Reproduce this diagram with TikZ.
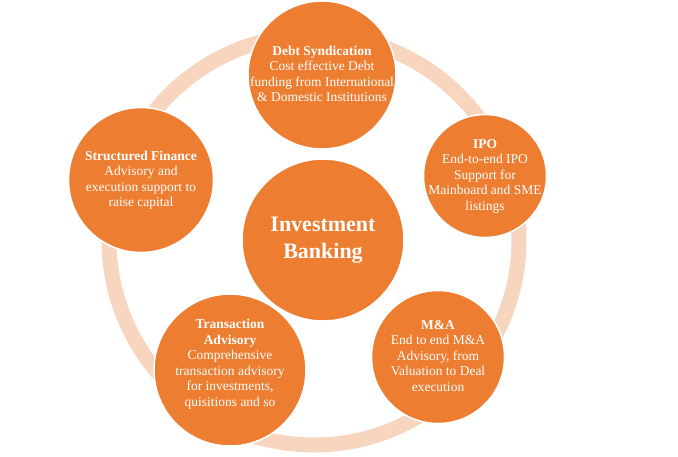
\documentclass[tikz,border=0pt]{standalone}
\usepackage{fontspec}
\setmainfont{Liberation Serif}
\begin{document}
\begin{tikzpicture}[x=1pt,y=-1pt,
  sat/.style={circle,fill=orng,draw=white,line width=1.5pt,text=white,align=center,inner sep=0pt},
  txt/.style={text=white,align=center,font=\fontsize{13.5}{15.5}\selectfont}]
\definecolor{orng}{HTML}{ED7D31}
\definecolor{peach}{HTML}{F8D5BF}
\useasboundingbox (0,0) rectangle (678,456);
\draw[peach,line width=15pt] (314,240) circle (205);
\node[sat,minimum size=162pt] (c) at (323,240) {};
\node[txt,font=\fontsize{22}{27}\selectfont\bfseries] (ct) at (c) {Investment\\Banking};
\node[sat,minimum size=148pt] (d) at (322,75) {};
\node[txt] at (322,74) {\textbf{Debt Syndication}\\Cost effective Debt\\funding from International\\\& Domestic Institutions};
\node[sat,minimum size=123pt] (i) at (485,176) {};
\node[txt] at (485,176) {\textbf{IPO}\\End-to-end IPO\\Support for\\Mainboard and SME\\listings};
\node[sat,minimum size=133pt] (m) at (438,357) {};
\node[txt] at (438,356) {\textbf{M\&A}\\End to end M\&A\\Advisory, from\\Valuation to Deal\\execution};
\node[sat,minimum size=145pt] (s) at (141,180) {};
\node[txt] at (141,180) {\textbf{Structured Finance}\\Advisory and\\execution support to\\raise capital};
\node[sat,minimum size=152pt] (t) at (230,370) {};
\begin{scope}
\clip (230,370) circle (75);
\node[txt] at (230,364) {\textbf{Transaction}\\\textbf{Advisory}\\Comprehensive\\transaction advisory\\for investments,\\quisitions and so};
\end{scope}
\end{tikzpicture}
\end{document}
